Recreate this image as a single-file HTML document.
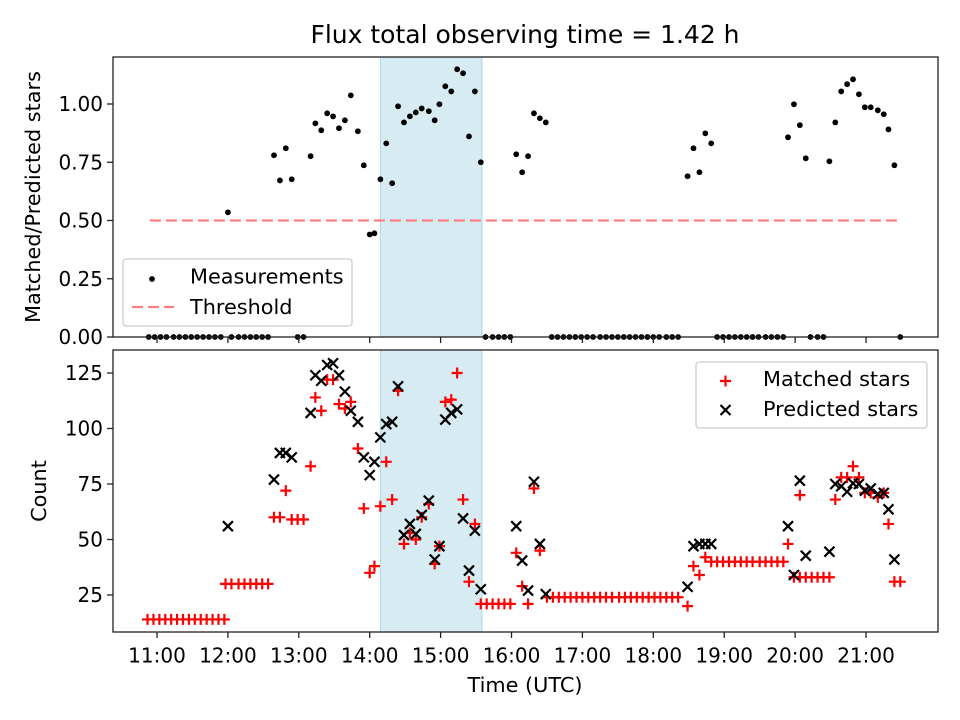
<!DOCTYPE html>
<html><head><meta charset="utf-8"><style>
html,body{margin:0;padding:0;background:#fff}
svg{display:block;font-family:"DejaVu Sans","Liberation Sans",sans-serif}
</style></head><body>
<svg id="chart" width="960" height="720" viewBox="0 0 960 720"></svg>
<script>
// time in minutes since 11:00 UTC
const zeroTimes=[-7,-2,3,8,14,19,24,29,34,39,44,49,54,63,69,74,79,84,89,94,119,124,278,284,289,294,299,334,339,344,349,354,359,364,369,375,380,385,390,395,400,405,410,415,420,425,431,436,441,474,479,484,489,494,499,504,509,515,520,525,530,553,559,564,629];
const fluxTimes=[60,99,104,109,114,130,134,139,144,149,154,159,164,170,175,180,184,189,194,199,204,209,214,219,224,230,235,239,244,249,254,259,264,269,274,304,309,314,319,324,329,449,454,459,464,469,534,539,544,549,569,574,579,584,589,594,599,604,610,615,619,624];
const fluxValues=[0.535,0.78,0.672,0.81,0.677,0.776,0.917,0.887,0.96,0.947,0.896,0.93,1.037,0.883,0.737,0.44,0.445,0.677,0.831,0.66,0.99,0.921,0.947,0.964,0.981,0.969,0.93,0.999,1.076,1.054,1.149,1.132,0.861,1.054,0.75,0.784,0.707,0.776,0.96,0.939,0.921,0.69,0.81,0.707,0.874,0.831,0.857,0.999,0.909,0.767,0.754,0.921,1.054,1.085,1.106,1.042,0.986,0.986,0.973,0.956,0.891,0.737];
const matchedTimes=[-8,-3,2,7,12,17,22,27,32,37,42,47,52,57,58,63,69,74,79,84,89,94,99,104,109,114,119,124,130,134,139,144,149,154,159,164,170,175,180,184,189,194,199,204,209,214,219,224,230,235,239,244,249,254,259,264,269,274,279,284,289,294,299,304,309,314,319,324,330,335,340,345,350,355,360,365,370,375,380,385,391,396,401,406,411,416,421,426,431,436,441,449,454,459,464,469,474,479,484,489,494,499,504,510,515,520,525,530,534,539,544,549,554,559,564,569,544,574,579,584,589,594,599,604,610,615,619,624,629];
const matchedValues=[14,14,14,14,14,14,14,14,14,14,14,14,14,14,30,30,30,30,30,30,30,30,60,60,72,59,59,59,83,114,108,122,122,111,109,112,91,64,35,38,65,85,68,117,48,53,50,60,66,39,47,112,113,125,68,31,57,21,21,21,21,21,21,44,29,21,73,45,24,24,24,24,24,24,24,24,24,24,24,24,24,24,24,24,24,24,24,24,24,24,24,20,38,34,42,40,40,40,40,40,40,40,40,40,40,40,40,40,48,33,33,33,33,33,33,33,70,68,78,78,83,78,71,71,69,71,57,31,31];
const predTimes=[60,99,104,109,114,130,134,139,144,149,154,159,164,170,175,180,184,189,194,199,204,209,214,219,224,230,235,239,244,249,254,259,264,269,274,304,309,314,319,324,329,449,454,459,464,469,534,539,544,549,569,574,579,584,589,594,599,604,610,615,619,624];
const predValues=[56,77,89,89,87,107,124,121.5,128.6,129.4,124,116.6,108,103,87,79,85,96,102,103,119,52,57,52.5,61,67.5,41,47,104,107,108.6,59.5,36,54,27.6,56,40.5,27,76,48,25.4,28.7,47,48,48,48,56,34,76.5,42.7,44.5,75,74,71.5,75.3,75,72,73,70.5,71,63.6,41];
const tickLabels=["11:00","12:00","13:00","14:00","15:00","16:00","17:00","18:00","19:00","20:00","21:00"];
const tickMinutes=[0,60,120,180,240,300,360,420,480,540,600];
const shadeStart=189, shadeEnd=275;
const topTicks=[0,0.25,0.5,0.75,1.0];
const topTickLabels=["0.00","0.25","0.50","0.75","1.00"];
const botTicks=[25,50,75,100,125];
const threshold=0.5, thrStart=-6, thrEnd=630;

const NS="http://www.w3.org/2000/svg";
const svg=document.getElementById('chart');
function el(tag,attrs,parent,txt){const e=document.createElementNS(NS,tag);for(const k in attrs)e.setAttribute(k,attrs[k]);if(txt!==undefined)e.textContent=txt;(parent||svg).appendChild(e);return e;}
const X0=113,X1=938,T0=57,T1=337,B0=350,B1=632;
const xS=m=>157+m*1.1817;
const yT=v=>337-v*233;
const yB=v=>650.5-v*2.22;

let s1=el('rect',{x:xS(shadeStart),y:T0,width:xS(shadeEnd)-xS(shadeStart),height:T1-T0,fill:'#add8e6','fill-opacity':0.5,stroke:'#add8e6'});


let s2=el('rect',{x:xS(shadeStart),y:B0,width:xS(shadeEnd)-xS(shadeStart),height:B1-B0,fill:'#add8e6','fill-opacity':0.5,stroke:'#add8e6'});



let th=el('line',{x1:xS(thrStart),x2:xS(thrEnd),y1:yT(threshold),y2:yT(threshold),stroke:'#ff7f7f','stroke-width':2.2,'stroke-dasharray':'11,5'});



const gF=el('g',{});


zeroTimes.forEach(t=>{const c=el('circle',{cx:xS(t),cy:yT(0),r:2.9,fill:'#000'},gF);});
fluxTimes.forEach((t,i)=>{const c=el('circle',{cx:xS(t),cy:yT(fluxValues[i]),r:2.9,fill:'#000'},gF);});

const gM=el('g',{});


matchedTimes.forEach((t,i)=>{const x=xS(t),y=yB(matchedValues[i]);const p=el('path',{d:`M${x-5.5},${y}H${x+5.5}M${x},${y-5.5}V${y+5.5}`,stroke:'#f00','stroke-width':2.2},gM);});
const gP=el('g',{});


predTimes.forEach((t,i)=>{const x=xS(t),y=yB(predValues[i]);const p=el('path',{d:`M${x-5},${y-5}L${x+5},${y+5}M${x-5},${y+5}L${x+5},${y-5}`,stroke:'#000','stroke-width':2.2},gP);});

let f1=el('rect',{x:X0,y:T0,width:X1-X0,height:T1-T0,fill:'none',stroke:'#222','stroke-width':1.3});


let f2=el('rect',{x:X0,y:B0,width:X1-X0,height:B1-B0,fill:'none',stroke:'#222','stroke-width':1.3});



tickMinutes.forEach((m,i)=>{const x=xS(m);
 el('line',{x1:x,x2:x,y1:T1,y2:T1+6,stroke:'#222','stroke-width':1.3});
 el('line',{x1:x,x2:x,y1:B1,y2:B1+6,stroke:'#222','stroke-width':1.3});
 const t=el('text',{x:x,y:662.5,'font-size':20,'text-anchor':'middle'},svg,tickLabels[i]);
 
 
});
topTicks.forEach((v,i)=>{const y=yT(v);el('line',{x1:X0-6,x2:X0,y1:y,y2:y,stroke:'#222','stroke-width':1.3});
 const t=el('text',{x:X0-10,y:y+7,'font-size':20,'text-anchor':'end'},svg,topTickLabels[i]);
 
 });
botTicks.forEach(v=>{const y=yB(v);el('line',{x1:X0-6,x2:X0,y1:y,y2:y,stroke:'#222','stroke-width':1.3});
 const t=el('text',{x:X0-10,y:y+7,'font-size':20,'text-anchor':'end'},svg,String(v));
 
 });
</script>
<svg width="960" height="720" style="position:absolute;left:0;top:0">
<text x="525" y="43" font-size="25" text-anchor="middle" font-family="DejaVu Sans, Liberation Sans, sans-serif">Flux total observing time = 1.42 h</text>
<text x="525" y="692" font-size="20.8" text-anchor="middle" font-family="DejaVu Sans, Liberation Sans, sans-serif">Time (UTC)</text>
<text transform="translate(40,197) rotate(-90)" font-size="20.8" text-anchor="middle" font-family="DejaVu Sans, Liberation Sans, sans-serif">Matched/Predicted stars</text>
<text transform="translate(46,491) rotate(-90)" font-size="20.8" text-anchor="middle" font-family="DejaVu Sans, Liberation Sans, sans-serif">Count</text>
<g>
<rect x="123" y="259" width="229" height="67" rx="3" fill="#fff" fill-opacity="0.8" stroke="#ccc" stroke-width="1.3"/>
<circle cx="152" cy="279" r="2.9" fill="#000"/>
<text x="190" y="283.5" font-size="20.8" font-family="DejaVu Sans, Liberation Sans, sans-serif">Measurements</text>
<line x1="132" x2="174" y1="307" y2="307" stroke="#ff7f7f" stroke-width="2.2" stroke-dasharray="11,5"/>
<text x="190" y="314" font-size="20.8" font-family="DejaVu Sans, Liberation Sans, sans-serif">Threshold</text>
</g>
<g>
<rect x="696" y="362" width="231" height="66" rx="3" fill="#fff" fill-opacity="0.8" stroke="#ccc" stroke-width="1.3"/>
<path d="M720,381H731M725.5,375.5V386.5" stroke="#f00" stroke-width="2.2"/>
<text x="763" y="386" font-size="20.8" font-family="DejaVu Sans, Liberation Sans, sans-serif">Matched stars</text>
<path d="M720.5,405L730.5,415M720.5,415L730.5,405" stroke="#000" stroke-width="2.2"/>
<text x="763" y="416" font-size="20.8" font-family="DejaVu Sans, Liberation Sans, sans-serif">Predicted stars</text>
</g>
</svg>
</body></html>
